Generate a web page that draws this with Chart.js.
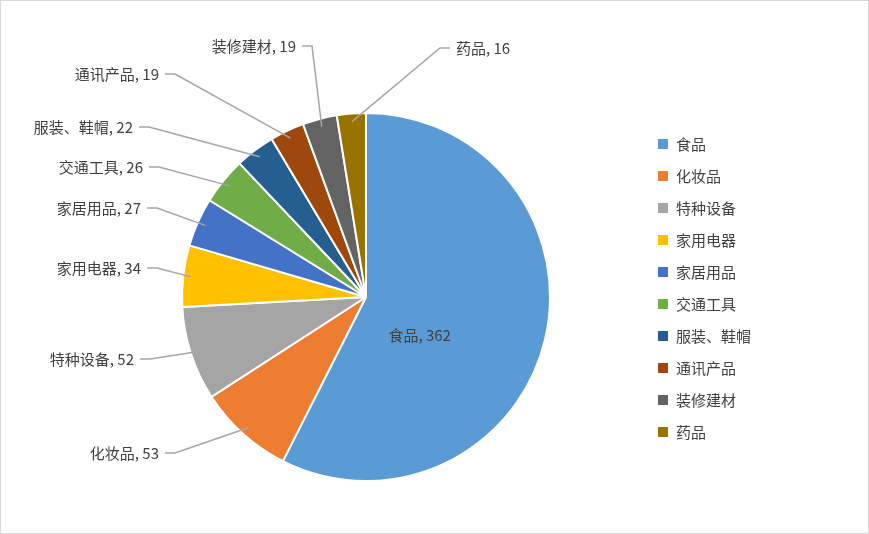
<!DOCTYPE html>
<html>
<head>
<meta charset="utf-8">
<script src="https://cdn.jsdelivr.net/npm/chart.js@4"></script>
<style>
  html, body { margin: 0; padding: 0; background: #fff; }
  #wrap { position: relative; width: 867px; height: 532px; border: 1px solid #d9d9d9; }
</style>
</head>
<body>
<div id="wrap"><canvas id="pie" width="867" height="532"></canvas></div>
<script>
const categories = ['食品', '化妆品', '特种设备', '家用电器', '家居用品', '交通工具', '服装、鞋帽', '通讯产品', '装修建材', '药品'];
const values = [362, 53, 52, 34, 27, 26, 22, 19, 19, 16];
const colors = ['#5B9BD5', '#ED7D31', '#A5A5A5', '#FFC000', '#4472C4', '#70AD47', '#255E91', '#9E480E', '#636363', '#997300'];

// where each outside label sits (text anchor x, baseline-centre y, align); null = inside
const labelLayout = [
  null,
  { x: 158, y: 452, align: 'right' },
  { x: 133, y: 358, align: 'right' },
  { x: 140, y: 267, align: 'right' },
  { x: 140, y: 207, align: 'right' },
  { x: 142, y: 166, align: 'right' },
  { x: 132, y: 126, align: 'right' },
  { x: 158, y: 73, align: 'right' },
  { x: 295, y: 45, align: 'right' },
  { x: 455, y: 47, align: 'left' }
];

const FONT = '15px "Noto Sans CJK SC", "Noto Sans", sans-serif';

const labelPlugin = {
  id: 'pieLabels',
  afterDatasetsDraw(chart) {
    const ctx = chart.ctx;
    const arcs = chart.getDatasetMeta(0).data;
    ctx.save();
    ctx.font = FONT;
    ctx.textBaseline = 'middle';
    arcs.forEach((arc, i) => {
      const text = categories[i] + ', ' + values[i];
      const mid = (arc.startAngle + arc.endAngle) / 2;
      const lay = labelLayout[i];
      if (!lay) {
        const r = arc.outerRadius * 0.3;
        ctx.fillStyle = '#404040';
        ctx.textAlign = 'center';
        ctx.fillText(text, arc.x + Math.cos(mid) * r, arc.y + Math.sin(mid) * r + 25);
        return;
      }
      const ex = arc.x + Math.cos(mid) * (arc.outerRadius - 8);
      const ey = arc.y + Math.sin(mid) * (arc.outerRadius - 8);
      const sx = lay.align === 'right' ? lay.x + 6 : lay.x - 6;
      const kx = lay.align === 'right' ? sx + 10 : sx - 10;
      ctx.strokeStyle = '#a6a6a6';
      ctx.lineWidth = 1.5;
      ctx.beginPath();
      ctx.moveTo(sx, lay.y);
      ctx.lineTo(kx, lay.y);
      ctx.lineTo(ex, ey);
      ctx.stroke();
      ctx.fillStyle = '#404040';
      ctx.textAlign = lay.align;
      ctx.fillText(text, lay.x, lay.y);
    });
    // legend
    categories.forEach((c, i) => {
      const y = 143 + i * 32;
      ctx.fillStyle = colors[i];
      ctx.fillRect(657, y - 5, 10, 10);
      ctx.fillStyle = '#404040';
      ctx.textAlign = 'left';
      ctx.fillText(c, 675, y);
    });
    ctx.restore();
  }
};

new Chart(document.getElementById('pie'), {
  type: 'pie',
  data: {
    labels: categories,
    datasets: [{
      data: values,
      backgroundColor: colors,
      borderColor: '#ffffff',
      borderWidth: 2
    }]
  },
  options: {
    responsive: false,
    animation: false,
    layout: { padding: { left: 180, right: 317, top: 111, bottom: 51 } },
    plugins: { legend: { display: false }, tooltip: { enabled: false } }
  },
  plugins: [labelPlugin]
});
</script>
</body>
</html>
